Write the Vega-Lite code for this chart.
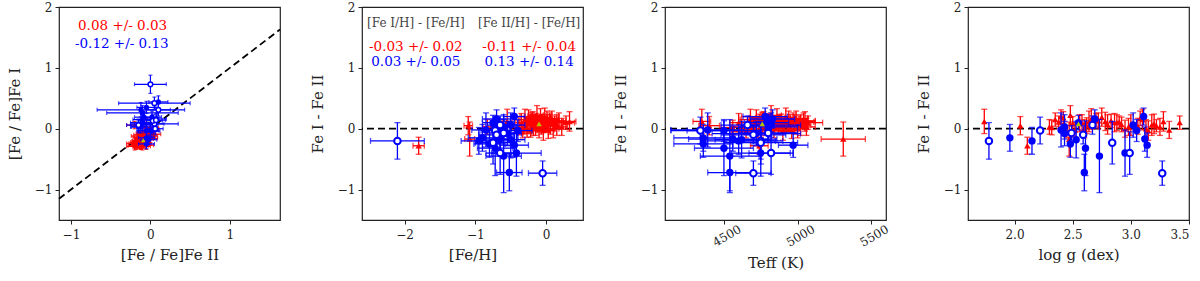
{
"$schema":"https://vega.github.io/schema/vega-lite/v6.json",
"autosize":{"type":"pad"},
"padding":{"left":6,"top":0,"right":0,"bottom":0},
"background":"white",
"spacing":82,
"bounds":"flush",
"datasets":{
"stars":[
{"g":"r","feh":-1.8,"fe":0.08,"teff":4740,"te":60,"logg":2.11,"d":-0.28,"de":0.14,"x1":-0.2,"x1e":0.1,"y1":0.06,"y1e":0.06},
{"g":"r","feh":-1.1,"fe":0.06,"teff":4400,"te":70,"logg":2.05,"d":0.05,"de":0.15,"x1":-0.15,"x1e":0.08,"y1":-0.2,"y1e":0.06},
{"g":"r","feh":-1.08,"fe":0.07,"teff":5310,"te":150,"logg":2.47,"d":-0.17,"de":0.28,"x1":-0.05,"x1e":0.1,"y1":0.1,"y1e":0.07},
{"g":"r","feh":-0.83,"fe":0.06,"teff":4620,"te":70,"logg":2.3,"d":0.03,"de":0.12,"x1":-0.12,"x1e":0.08,"y1":-0.15,"y1e":0.05},
{"g":"r","feh":-0.55,"fe":0.07,"teff":4350,"te":60,"logg":1.74,"d":0.12,"de":0.2,"x1":-0.1,"x1e":0.09,"y1":-0.22,"y1e":0.06},
{"g":"r","feh":-0.38,"fe":0.1,"teff":4560,"te":80,"logg":2.32,"d":0.02,"de":0.12,"x1":-0.22,"x1e":0.08,"y1":-0.24,"y1e":0.05},
{"g":"r","feh":-0.35,"fe":0.08,"teff":4600,"te":60,"logg":2.86,"d":0.10,"de":0.15,"x1":-0.18,"x1e":0.1,"y1":-0.28,"y1e":0.06},
{"g":"r","feh":-0.33,"fe":0.12,"teff":4650,"te":100,"logg":2.45,"d":-0.05,"de":0.1,"x1":-0.15,"x1e":0.06,"y1":-0.10,"y1e":0.04},
{"g":"r","feh":-0.30,"fe":0.09,"teff":4680,"te":70,"logg":3.10,"d":0.15,"de":0.17,"x1":-0.12,"x1e":0.09,"y1":-0.27,"y1e":0.07},
{"g":"r","feh":-0.28,"fe":0.1,"teff":4700,"te":80,"logg":2.62,"d":0.05,"de":0.13,"x1":-0.10,"x1e":0.08,"y1":-0.15,"y1e":0.05},
{"g":"r","feh":-0.27,"fe":0.08,"teff":4710,"te":60,"logg":2.95,"d":0.00,"de":0.14,"x1":-0.08,"x1e":0.1,"y1":-0.08,"y1e":0.06},
{"g":"r","feh":-0.25,"fe":0.12,"teff":4720,"te":100,"logg":2.40,"d":0.20,"de":0.11,"x1":-0.05,"x1e":0.06,"y1":-0.25,"y1e":0.04},
{"g":"r","feh":-0.23,"fe":0.09,"teff":4740,"te":70,"logg":3.20,"d":0.08,"de":0.16,"x1":-0.02,"x1e":0.09,"y1":-0.10,"y1e":0.07},
{"g":"r","feh":-0.22,"fe":0.1,"teff":4750,"te":80,"logg":2.52,"d":-0.02,"de":0.12,"x1":0.00,"x1e":0.08,"y1":0.02,"y1e":0.05},
{"g":"r","feh":-0.20,"fe":0.08,"teff":4760,"te":60,"logg":2.78,"d":0.12,"de":0.15,"x1":0.03,"x1e":0.1,"y1":-0.09,"y1e":0.06},
{"g":"r","feh":-0.19,"fe":0.12,"teff":4770,"te":100,"logg":2.42,"d":0.18,"de":0.1,"x1":-0.12,"x1e":0.06,"y1":-0.30,"y1e":0.04},
{"g":"r","feh":-0.18,"fe":0.09,"teff":4780,"te":70,"logg":3.00,"d":0.06,"de":0.17,"x1":-0.18,"x1e":0.09,"y1":-0.24,"y1e":0.07},
{"g":"r","feh":-0.16,"fe":0.1,"teff":4790,"te":80,"logg":2.58,"d":0.10,"de":0.13,"x1":-0.15,"x1e":0.08,"y1":-0.25,"y1e":0.05},
{"g":"r","feh":-0.15,"fe":0.08,"teff":4800,"te":60,"logg":3.25,"d":0.03,"de":0.14,"x1":-0.12,"x1e":0.1,"y1":-0.15,"y1e":0.06},
{"g":"r","feh":-0.14,"fe":0.12,"teff":4810,"te":100,"logg":2.70,"d":0.14,"de":0.11,"x1":-0.10,"x1e":0.06,"y1":-0.24,"y1e":0.04},
{"g":"r","feh":-0.13,"fe":0.09,"teff":4820,"te":70,"logg":2.48,"d":0.22,"de":0.16,"x1":-0.05,"x1e":0.09,"y1":-0.27,"y1e":0.07},
{"g":"r","feh":-0.12,"fe":0.1,"teff":4830,"te":80,"logg":2.92,"d":0.07,"de":0.12,"x1":-0.08,"x1e":0.08,"y1":-0.15,"y1e":0.05},
{"g":"r","feh":-0.10,"fe":0.08,"teff":4840,"te":60,"logg":3.13,"d":0.00,"de":0.15,"x1":-0.05,"x1e":0.1,"y1":-0.05,"y1e":0.06},
{"g":"r","feh":-0.09,"fe":0.12,"teff":4850,"te":100,"logg":2.38,"d":0.11,"de":0.1,"x1":-0.02,"x1e":0.06,"y1":-0.13,"y1e":0.04},
{"g":"r","feh":-0.08,"fe":0.09,"teff":4860,"te":70,"logg":2.66,"d":0.16,"de":0.17,"x1":0.00,"x1e":0.09,"y1":-0.16,"y1e":0.07},
{"g":"r","feh":-0.07,"fe":0.1,"teff":4870,"te":80,"logg":3.06,"d":0.04,"de":0.13,"x1":0.03,"x1e":0.08,"y1":-0.01,"y1e":0.05},
{"g":"r","feh":-0.06,"fe":0.08,"teff":4880,"te":60,"logg":2.56,"d":0.09,"de":0.14,"x1":-0.20,"x1e":0.1,"y1":-0.29,"y1e":0.06},
{"g":"r","feh":-0.05,"fe":0.12,"teff":4890,"te":100,"logg":2.83,"d":0.13,"de":0.11,"x1":-0.16,"x1e":0.06,"y1":-0.29,"y1e":0.04},
{"g":"r","feh":-0.04,"fe":0.09,"teff":4900,"te":70,"logg":3.15,"d":-0.03,"de":0.16,"x1":-0.15,"x1e":0.09,"y1":-0.12,"y1e":0.07},
{"g":"r","feh":-0.03,"fe":0.1,"teff":4910,"te":80,"logg":2.50,"d":0.08,"de":0.12,"x1":-0.12,"x1e":0.08,"y1":-0.20,"y1e":0.05},
{"g":"r","feh":-0.02,"fe":0.08,"teff":4920,"te":60,"logg":2.75,"d":0.19,"de":0.15,"x1":-0.10,"x1e":0.1,"y1":-0.29,"y1e":0.06},
{"g":"r","feh":0.00,"fe":0.12,"teff":4930,"te":100,"logg":3.22,"d":0.05,"de":0.1,"x1":-0.08,"x1e":0.06,"y1":-0.13,"y1e":0.04},
{"g":"r","feh":0.01,"fe":0.09,"teff":4940,"te":70,"logg":2.64,"d":0.12,"de":0.17,"x1":-0.05,"x1e":0.09,"y1":-0.17,"y1e":0.07},
{"g":"r","feh":0.02,"fe":0.1,"teff":4950,"te":80,"logg":2.88,"d":0.10,"de":0.13,"x1":-0.02,"x1e":0.08,"y1":-0.12,"y1e":0.05},
{"g":"r","feh":0.03,"fe":0.08,"teff":4960,"te":60,"logg":3.33,"d":-0.02,"de":0.14,"x1":0.00,"x1e":0.1,"y1":0.02,"y1e":0.06},
{"g":"r","feh":0.05,"fe":0.12,"teff":4970,"te":100,"logg":2.35,"d":0.15,"de":0.11,"x1":0.03,"x1e":0.06,"y1":-0.12,"y1e":0.04},
{"g":"r","feh":0.06,"fe":0.09,"teff":4980,"te":70,"logg":2.80,"d":0.07,"de":0.16,"x1":-0.10,"x1e":0.09,"y1":-0.17,"y1e":0.07},
{"g":"r","feh":0.08,"fe":0.1,"teff":4990,"te":80,"logg":3.08,"d":0.17,"de":0.12,"x1":-0.10,"x1e":0.08,"y1":-0.27,"y1e":0.05},
{"g":"r","feh":0.10,"fe":0.08,"teff":5000,"te":60,"logg":2.60,"d":0.00,"de":0.15,"x1":-0.06,"x1e":0.1,"y1":-0.06,"y1e":0.06},
{"g":"r","feh":0.12,"fe":0.12,"teff":5010,"te":100,"logg":2.90,"d":0.11,"de":0.1,"x1":-0.12,"x1e":0.06,"y1":-0.23,"y1e":0.04},
{"g":"r","feh":0.15,"fe":0.09,"teff":5020,"te":70,"logg":3.18,"d":0.06,"de":0.17,"x1":-0.16,"x1e":0.09,"y1":-0.22,"y1e":0.07},
{"g":"r","feh":0.18,"fe":0.1,"teff":5040,"te":80,"logg":2.72,"d":0.13,"de":0.13,"x1":-0.08,"x1e":0.08,"y1":-0.21,"y1e":0.05},
{"g":"r","feh":0.22,"fe":0.08,"teff":5060,"te":60,"logg":2.98,"d":0.03,"de":0.14,"x1":-0.04,"x1e":0.1,"y1":-0.07,"y1e":0.06},
{"g":"r","feh":0.28,"fe":0.12,"teff":5070,"te":100,"logg":3.42,"d":0.10,"de":0.11,"x1":-0.13,"x1e":0.06,"y1":-0.23,"y1e":0.04},
{"g":"r","feh":0.33,"fe":0.09,"teff":5050,"te":70,"logg":3.28,"d":0.12,"de":0.16,"x1":-0.10,"x1e":0.09,"y1":-0.22,"y1e":0.07},
{"g":"bo","feh":-2.1,"fe":0.38,"teff":4750,"te":150,"logg":1.78,"d":-0.2,"de":0.3,"x1":-0.15,"x1e":0.15,"y1":0.06,"y1e":0.1},
{"g":"bo","feh":-0.05,"fe":0.2,"teff":4700,"te":120,"logg":3.27,"d":-0.73,"de":0.2,"x1":0.0,"x1e":0.2,"y1":0.73,"y1e":0.15},
{"g":"bo","feh":-0.72,"fe":0.2,"teff":4340,"te":200,"logg":2.22,"d":-0.03,"de":0.22,"x1":0.05,"x1e":0.12,"y1":0.08,"y1e":0.1},
{"g":"bo","feh":-0.65,"fe":0.18,"teff":4660,"te":180,"logg":2.67,"d":0.06,"de":0.15,"x1":0.06,"x1e":0.1,"y1":0.0,"y1e":0.1},
{"g":"bo","feh":-0.7,"fe":0.25,"teff":4700,"te":220,"logg":2.59,"d":-0.1,"de":0.15,"x1":0.03,"x1e":0.12,"y1":0.13,"y1e":0.1},
{"g":"bo","feh":-0.6,"fe":0.2,"teff":4800,"te":200,"logg":2.49,"d":-0.07,"de":0.12,"x1":0.07,"x1e":0.12,"y1":0.14,"y1e":0.1},
{"g":"bo","feh":-0.65,"fe":0.2,"teff":4820,"te":150,"logg":2.99,"d":-0.4,"de":0.35,"x1":0.05,"x1e":0.45,"y1":0.42,"y1e":0.1},
{"g":"bo","feh":-0.75,"fe":0.25,"teff":4750,"te":250,"logg":2.84,"d":-0.23,"de":0.35,"x1":0.1,"x1e":0.15,"y1":0.31,"y1e":0.1},
{"g":"bf","feh":-0.9,"fe":0.2,"teff":4360,"te":200,"logg":1.96,"d":-0.15,"de":0.22,"x1":-0.12,"x1e":0.12,"y1":0.03,"y1e":0.1},
{"g":"bf","feh":-0.95,"fe":0.25,"teff":4600,"te":250,"logg":2.15,"d":-0.2,"de":0.22,"x1":-0.1,"x1e":0.15,"y1":0.1,"y1e":0.1},
{"g":"bf","feh":-0.85,"fe":0.2,"teff":4390,"te":250,"logg":2.40,"d":-0.02,"de":0.28,"x1":-0.05,"x1e":0.12,"y1":-0.03,"y1e":0.1},
{"g":"bf","feh":-0.6,"fe":0.18,"teff":4800,"te":200,"logg":2.43,"d":0.03,"de":0.2,"x1":0.0,"x1e":0.1,"y1":-0.03,"y1e":0.1},
{"g":"bf","feh":-0.8,"fe":0.22,"teff":4360,"te":200,"logg":2.48,"d":-0.25,"de":0.22,"x1":-0.1,"x1e":0.12,"y1":0.15,"y1e":0.1},
{"g":"bf","feh":-0.5,"fe":0.2,"teff":4620,"te":180,"logg":2.53,"d":-0.18,"de":0.3,"x1":-0.15,"x1e":0.1,"y1":0.03,"y1e":0.1},
{"g":"bf","feh":-0.75,"fe":0.15,"teff":4790,"te":150,"logg":2.55,"d":0.1,"de":0.12,"x1":-0.05,"x1e":0.1,"y1":-0.15,"y1e":0.08},
{"g":"bf","feh":-0.52,"fe":0.18,"teff":4540,"te":150,"logg":2.60,"d":-0.72,"de":0.3,"x1":0.1,"x1e":0.12,"y1":0.44,"y1e":0.1},
{"g":"bf","feh":-0.72,"fe":0.25,"teff":4500,"te":200,"logg":2.61,"d":-0.32,"de":0.45,"x1":-0.12,"x1e":0.55,"y1":0.31,"y1e":0.12},
{"g":"bf","feh":-0.7,"fe":0.2,"teff":4830,"te":150,"logg":2.69,"d":0.16,"de":0.15,"x1":-0.02,"x1e":0.1,"y1":-0.18,"y1e":0.08},
{"g":"bf","feh":-0.6,"fe":0.25,"teff":4540,"te":200,"logg":2.73,"d":-0.45,"de":0.6,"x1":-0.1,"x1e":0.45,"y1":0.26,"y1e":0.12},
{"g":"bf","feh":-0.42,"fe":0.35,"teff":4750,"te":200,"logg":2.95,"d":-0.4,"de":0.38,"x1":-0.05,"x1e":0.12,"y1":0.35,"y1e":0.1},
{"g":"bf","feh":-0.5,"fe":0.2,"teff":4820,"te":200,"logg":3.02,"d":0.06,"de":0.2,"x1":0.02,"x1e":0.1,"y1":-0.04,"y1e":0.1},
{"g":"bf","feh":-0.4,"fe":0.2,"teff":4500,"te":250,"logg":3.05,"d":-0.03,"de":0.18,"x1":0.05,"x1e":0.3,"y1":0.08,"y1e":0.1},
{"g":"bf","feh":-0.45,"fe":0.15,"teff":4780,"te":150,"logg":3.11,"d":0.2,"de":0.14,"x1":-0.05,"x1e":0.1,"y1":-0.25,"y1e":0.08},
{"g":"bf","feh":-0.65,"fe":0.2,"teff":4560,"te":300,"logg":3.12,"d":-0.17,"de":0.2,"x1":0.02,"x1e":0.12,"y1":0.19,"y1e":0.1},
{"g":"bf","feh":-0.45,"fe":0.2,"teff":4970,"te":100,"logg":3.14,"d":-0.27,"de":0.2,"x1":-0.08,"x1e":0.12,"y1":0.19,"y1e":0.1},
{"g":"bf","feh":-0.55,"fe":0.2,"teff":4720,"te":300,"logg":2.43,"d":-0.08,"de":0.2,"x1":0.08,"x1e":0.12,"y1":0.16,"y1e":0.1},
{"g":"s","feh":-0.1,"fe":0,"teff":4760,"te":0,"logg":2.55,"d":0.08,"de":0,"x1":-0.09,"x1e":0,"y1":-0.19,"y1e":0}
],
"notes":[
{"p":1,"tx":-0.35,"ty":1.69,"label":"0.08 +/- 0.03","c":"r"},
{"p":1,"tx":-0.36,"ty":1.40,"label":"-0.12 +/- 0.13","c":"b"},
{"p":2,"tx":-1.84,"ty":1.74,"label":"[Fe I/H] - [Fe/H]","c":"k"},
{"p":2,"tx":-0.24,"ty":1.74,"label":"[Fe II/H] - [Fe/H]","c":"k"},
{"p":2,"tx":-1.84,"ty":1.35,"label":"-0.03 +/- 0.02","c":"r"},
{"p":2,"tx":-0.24,"ty":1.35,"label":"-0.11 +/- 0.04","c":"r"},
{"p":2,"tx":-1.84,"ty":1.10,"label":"0.03 +/- 0.05","c":"b"},
{"p":2,"tx":-0.24,"ty":1.10,"label":"0.13 +/- 0.14","c":"b"}
]
},
"hconcat":[
{"width":221,"height":213,
"layer":[
{"data":{"values":[{}]},"mark":{"type":"rule","strokeDash":[7,4],"strokeWidth":1.8,"color":"black"},"encoding":{"x":{"datum":-1.15,"type":"quantitative","title":"[Fe / Fe]Fe II"},"y":{"datum":-1.15,"type":"quantitative","title":"[Fe / Fe]Fe I"},"x2":{"datum":1.63},"y2":{"datum":1.63}}},
{"data":{"name":"stars"},"transform":[{"filter":"datum.g == 'r'"}],"mark":{"type":"errorbar","ticks":true,"size":4,"thickness":1.2,"color":"#ff0000"},"encoding":{"x":{"field":"x1","type":"quantitative","title":"[Fe / Fe]Fe II"},"xError":{"field":"x1e"},"y":{"field":"y1","type":"quantitative","title":"[Fe / Fe]Fe I"}}},
{"data":{"name":"stars"},"transform":[{"filter":"datum.g == 'r'"}],"mark":{"type":"errorbar","ticks":true,"size":4,"thickness":1.2,"color":"#ff0000"},"encoding":{"y":{"field":"y1","type":"quantitative","title":"[Fe / Fe]Fe I"},"yError":{"field":"y1e"},"x":{"field":"x1","type":"quantitative","title":"[Fe / Fe]Fe II"}}},
{"data":{"name":"stars"},"transform":[{"filter":"datum.g == 'r'"}],"mark":{"type":"point","shape":"triangle-up","filled":true,"size":22,"color":"#ff0000","opacity":1},
 "encoding":{"x":{"field":"x1","type":"quantitative","title":"[Fe / Fe]Fe II","scale":{"domain":[-1.15,1.63],"nice":false,"zero":false},"axis":{"values":[-1,0,1],"format":"d"}},
 "y":{"field":"y1","type":"quantitative","title":"[Fe / Fe]Fe I","scale":{"domain":[-1.5,2],"nice":false,"zero":false},"axis":{"values":[-1,0,1,2],"format":"d"}}}},
{"data":{"name":"stars"},"transform":[{"filter":{"field":"g","oneOf":["bf","bo"]}}],"mark":{"type":"errorbar","ticks":true,"size":4,"thickness":1.2,"color":"#0000ff"},"encoding":{"x":{"field":"x1","type":"quantitative","title":"[Fe / Fe]Fe II"},"xError":{"field":"x1e"},"y":{"field":"y1","type":"quantitative","title":"[Fe / Fe]Fe I"}}},
{"data":{"name":"stars"},"transform":[{"filter":{"field":"g","oneOf":["bf","bo"]}}],"mark":{"type":"errorbar","ticks":true,"size":4,"thickness":1.2,"color":"#0000ff"},"encoding":{"y":{"field":"y1","type":"quantitative","title":"[Fe / Fe]Fe I"},"yError":{"field":"y1e"},"x":{"field":"x1","type":"quantitative","title":"[Fe / Fe]Fe II"}}},
{"data":{"name":"stars"},"transform":[{"filter":"datum.g == 'bf'"}],"mark":{"type":"point","shape":"circle","filled":true,"size":28,"color":"#0000ff","opacity":1},"encoding":{"x":{"field":"x1","type":"quantitative","title":"[Fe / Fe]Fe II"},"y":{"field":"y1","type":"quantitative","title":"[Fe / Fe]Fe I"}}},
{"data":{"name":"stars"},"transform":[{"filter":"datum.g == 'bo'"}],"mark":{"type":"point","shape":"circle","filled":false,"fill":"white","fillOpacity":1,"size":22,"strokeWidth":1.5,"color":"#0000ff","opacity":1},"encoding":{"x":{"field":"x1","type":"quantitative","title":"[Fe / Fe]Fe II"},"y":{"field":"y1","type":"quantitative","title":"[Fe / Fe]Fe I"}}},
{"data":{"name":"stars"},"transform":[{"filter":"datum.g == 's'"}],"mark":{"type":"point","shape":"triangle-up","filled":true,"size":22,"color":"#b8c400","opacity":1},"encoding":{"x":{"field":"x1","type":"quantitative","title":"[Fe / Fe]Fe II"},"y":{"field":"y1","type":"quantitative","title":"[Fe / Fe]Fe I"}}},
{"data":{"name":"notes"},"transform":[{"filter":"datum.p == 1"}],"mark":{"type":"text","fontSize":13.5},"encoding":{"x":{"field":"tx","type":"quantitative","title":"[Fe / Fe]Fe II"},"y":{"field":"ty","type":"quantitative","title":"[Fe / Fe]Fe I"},"text":{"field":"label"},"color":{"field":"c","type":"nominal","scale":{"domain":["r","b","k"],"range":["#ff0000","#0000ff","#444444"]},"legend":null}}}
]},
{"width":221,"height":213,
"layer":[
{"data":{"values":[{}]},"mark":{"type":"rule","strokeDash":[7,4],"strokeWidth":1.8,"color":"black"},"encoding":{"y":{"datum":0,"type":"quantitative","title":"Fe I - Fe II"}}},
{"data":{"name":"stars"},"transform":[{"filter":"datum.g == 'r'"}],"mark":{"type":"errorbar","ticks":true,"size":6,"thickness":1.3,"color":"#ff0000"},"encoding":{"x":{"field":"feh","type":"quantitative","title":"[Fe/H]"},"xError":{"field":"fe"},"y":{"field":"d","type":"quantitative","title":"Fe I - Fe II"}}},
{"data":{"name":"stars"},"transform":[{"filter":"datum.g == 'r'"}],"mark":{"type":"errorbar","ticks":true,"size":6,"thickness":1.3,"color":"#ff0000"},"encoding":{"y":{"field":"d","type":"quantitative","title":"Fe I - Fe II"},"yError":{"field":"de"},"x":{"field":"feh","type":"quantitative","title":"[Fe/H]"}}},
{"data":{"name":"stars"},"transform":[{"filter":"datum.g == 'r'"}],"mark":{"type":"point","shape":"triangle-up","filled":true,"size":40,"color":"#ff0000","opacity":1},
 "encoding":{"x":{"field":"feh","type":"quantitative","title":"[Fe/H]","scale":{"domain":[-2.6,0.52],"nice":false,"zero":false},"axis":{"values":[-2,-1,0],"format":"d"}},
 "y":{"field":"d","type":"quantitative","title":"Fe I - Fe II","scale":{"domain":[-1.5,2],"nice":false,"zero":false},"axis":{"values":[-1,0,1,2],"format":"d"}}}},
{"data":{"name":"stars"},"transform":[{"filter":{"field":"g","oneOf":["bf","bo"]}}],"mark":{"type":"errorbar","ticks":true,"size":6,"thickness":1.3,"color":"#0000ff"},"encoding":{"x":{"field":"feh","type":"quantitative","title":"[Fe/H]"},"xError":{"field":"fe"},"y":{"field":"d","type":"quantitative","title":"Fe I - Fe II"}}},
{"data":{"name":"stars"},"transform":[{"filter":{"field":"g","oneOf":["bf","bo"]}}],"mark":{"type":"errorbar","ticks":true,"size":6,"thickness":1.3,"color":"#0000ff"},"encoding":{"y":{"field":"d","type":"quantitative","title":"Fe I - Fe II"},"yError":{"field":"de"},"x":{"field":"feh","type":"quantitative","title":"[Fe/H]"}}},
{"data":{"name":"stars"},"transform":[{"filter":"datum.g == 'bf'"}],"mark":{"type":"point","shape":"circle","filled":true,"size":55,"color":"#0000ff","opacity":1},"encoding":{"x":{"field":"feh","type":"quantitative","title":"[Fe/H]"},"y":{"field":"d","type":"quantitative","title":"Fe I - Fe II"}}},
{"data":{"name":"stars"},"transform":[{"filter":"datum.g == 'bo'"}],"mark":{"type":"point","shape":"circle","filled":false,"fill":"white","fillOpacity":1,"size":42,"strokeWidth":2,"color":"#0000ff","opacity":1},"encoding":{"x":{"field":"feh","type":"quantitative","title":"[Fe/H]"},"y":{"field":"d","type":"quantitative","title":"Fe I - Fe II"}}},
{"data":{"name":"stars"},"transform":[{"filter":"datum.g == 's'"}],"mark":{"type":"point","shape":"triangle-up","filled":true,"size":30,"color":"#b8c400","opacity":1},"encoding":{"x":{"field":"feh","type":"quantitative","title":"[Fe/H]"},"y":{"field":"d","type":"quantitative","title":"Fe I - Fe II"}}},
{"data":{"name":"notes"},"transform":[{"filter":"datum.p == 2 && datum.c != 'k'"}],"mark":{"type":"text","fontSize":13.5},"encoding":{"x":{"field":"tx","type":"quantitative","title":"[Fe/H]"},"y":{"field":"ty","type":"quantitative","title":"Fe I - Fe II"},"text":{"field":"label"},"color":{"field":"c","type":"nominal","scale":{"domain":["r","b","k"],"range":["#ff0000","#0000ff","#444444"]},"legend":null}}},
{"data":{"name":"notes"},"transform":[{"filter":"datum.p == 2 && datum.c == 'k'"}],"mark":{"type":"text","fontSize":12},"encoding":{"x":{"field":"tx","type":"quantitative","title":"[Fe/H]"},"y":{"field":"ty","type":"quantitative","title":"Fe I - Fe II"},"text":{"field":"label"},"color":{"field":"c","type":"nominal","scale":{"domain":["r","b","k"],"range":["#ff0000","#0000ff","#444444"]},"legend":null}}}
]},
{"width":221,"height":213,
"layer":[
{"data":{"values":[{}]},"mark":{"type":"rule","strokeDash":[7,4],"strokeWidth":1.8,"color":"black"},"encoding":{"y":{"datum":0,"type":"quantitative","title":"Fe I - Fe II"}}},
{"data":{"name":"stars"},"transform":[{"filter":"datum.g == 'r'"}],"mark":{"type":"errorbar","ticks":true,"size":6,"thickness":1.3,"color":"#ff0000"},"encoding":{"x":{"field":"teff","type":"quantitative","title":"Teff (K)"},"xError":{"field":"te"},"y":{"field":"d","type":"quantitative","title":"Fe I - Fe II"}}},
{"data":{"name":"stars"},"transform":[{"filter":"datum.g == 'r'"}],"mark":{"type":"errorbar","ticks":true,"size":6,"thickness":1.3,"color":"#ff0000"},"encoding":{"y":{"field":"d","type":"quantitative","title":"Fe I - Fe II"},"yError":{"field":"de"},"x":{"field":"teff","type":"quantitative","title":"Teff (K)"}}},
{"data":{"name":"stars"},"transform":[{"filter":"datum.g == 'r'"}],"mark":{"type":"point","shape":"triangle-up","filled":true,"size":40,"color":"#ff0000","opacity":1},
 "encoding":{"x":{"field":"teff","type":"quantitative","title":"Teff (K)","scale":{"domain":[4100,5600],"nice":false,"zero":false},"axis":{"values":[4500,5000,5500],"format":"d","labelAngle":-30,"labelAlign":"center","labelBaseline":"top","labelPadding":7}},
 "y":{"field":"d","type":"quantitative","title":"Fe I - Fe II","scale":{"domain":[-1.5,2],"nice":false,"zero":false},"axis":{"values":[-1,0,1,2],"format":"d"}}}},
{"data":{"name":"stars"},"transform":[{"filter":{"field":"g","oneOf":["bf","bo"]}}],"mark":{"type":"errorbar","ticks":true,"size":6,"thickness":1.3,"color":"#0000ff"},"encoding":{"x":{"field":"teff","type":"quantitative","title":"Teff (K)"},"xError":{"field":"te"},"y":{"field":"d","type":"quantitative","title":"Fe I - Fe II"}}},
{"data":{"name":"stars"},"transform":[{"filter":{"field":"g","oneOf":["bf","bo"]}}],"mark":{"type":"errorbar","ticks":true,"size":6,"thickness":1.3,"color":"#0000ff"},"encoding":{"y":{"field":"d","type":"quantitative","title":"Fe I - Fe II"},"yError":{"field":"de"},"x":{"field":"teff","type":"quantitative","title":"Teff (K)"}}},
{"data":{"name":"stars"},"transform":[{"filter":"datum.g == 'bf'"}],"mark":{"type":"point","shape":"circle","filled":true,"size":55,"color":"#0000ff","opacity":1},"encoding":{"x":{"field":"teff","type":"quantitative","title":"Teff (K)"},"y":{"field":"d","type":"quantitative","title":"Fe I - Fe II"}}},
{"data":{"name":"stars"},"transform":[{"filter":"datum.g == 'bo'"}],"mark":{"type":"point","shape":"circle","filled":false,"fill":"white","fillOpacity":1,"size":42,"strokeWidth":2,"color":"#0000ff","opacity":1},"encoding":{"x":{"field":"teff","type":"quantitative","title":"Teff (K)"},"y":{"field":"d","type":"quantitative","title":"Fe I - Fe II"}}},
{"data":{"name":"stars"},"transform":[{"filter":"datum.g == 's'"}],"mark":{"type":"point","shape":"triangle-up","filled":true,"size":30,"color":"#b8c400","opacity":1},"encoding":{"x":{"field":"teff","type":"quantitative","title":"Teff (K)"},"y":{"field":"d","type":"quantitative","title":"Fe I - Fe II"}}}
]},
{"width":221,"height":213,
"layer":[
{"data":{"values":[{}]},"mark":{"type":"rule","strokeDash":[7,4],"strokeWidth":1.8,"color":"black"},"encoding":{"y":{"datum":0,"type":"quantitative","title":"Fe I - Fe II"}}},
{"data":{"name":"stars"},"transform":[{"filter":"datum.g == 'r'"}],"mark":{"type":"errorbar","ticks":true,"size":6,"thickness":1.3,"color":"#ff0000"},"encoding":{"y":{"field":"d","type":"quantitative","title":"Fe I - Fe II"},"yError":{"field":"de"},"x":{"field":"logg","type":"quantitative","title":"log g (dex)"}}},
{"data":{"name":"stars"},"transform":[{"filter":"datum.g == 'r'"}],"mark":{"type":"point","shape":"triangle-up","filled":true,"size":40,"color":"#ff0000","opacity":1},
 "encoding":{"x":{"field":"logg","type":"quantitative","title":"log g (dex)","scale":{"domain":[1.6,3.5],"nice":false,"zero":false},"axis":{"values":[2,2.5,3,3.5],"format":".1f"}},
 "y":{"field":"d","type":"quantitative","title":"Fe I - Fe II","scale":{"domain":[-1.5,2],"nice":false,"zero":false},"axis":{"values":[-1,0,1,2],"format":"d"}}}},
{"data":{"name":"stars"},"transform":[{"filter":{"field":"g","oneOf":["bf","bo"]}}],"mark":{"type":"errorbar","ticks":true,"size":6,"thickness":1.3,"color":"#0000ff"},"encoding":{"y":{"field":"d","type":"quantitative","title":"Fe I - Fe II"},"yError":{"field":"de"},"x":{"field":"logg","type":"quantitative","title":"log g (dex)"}}},
{"data":{"name":"stars"},"transform":[{"filter":"datum.g == 'bf'"}],"mark":{"type":"point","shape":"circle","filled":true,"size":55,"color":"#0000ff","opacity":1},"encoding":{"x":{"field":"logg","type":"quantitative","title":"log g (dex)"},"y":{"field":"d","type":"quantitative","title":"Fe I - Fe II"}}},
{"data":{"name":"stars"},"transform":[{"filter":"datum.g == 'bo'"}],"mark":{"type":"point","shape":"circle","filled":false,"fill":"white","fillOpacity":1,"size":42,"strokeWidth":2,"color":"#0000ff","opacity":1},"encoding":{"x":{"field":"logg","type":"quantitative","title":"log g (dex)"},"y":{"field":"d","type":"quantitative","title":"Fe I - Fe II"}}},
{"data":{"name":"stars"},"transform":[{"filter":"datum.g == 's'"}],"mark":{"type":"point","shape":"triangle-up","filled":true,"size":30,"color":"#b8c400","opacity":1},"encoding":{"x":{"field":"logg","type":"quantitative","title":"log g (dex)"},"y":{"field":"d","type":"quantitative","title":"Fe I - Fe II"}}}
]}
],
"config":{
"font":"DejaVu Serif",
"view":{"stroke":"#222222","strokeWidth":1.2},
"axis":{"grid":false,"domain":false,"tickColor":"#222222","tickSize":4,"labelFontSize":12,"labelColor":"#222222","titleFontSize":15,"titleFontWeight":"normal","titleColor":"#222222","labelPadding":3,"titlePadding":5},
"axisX":{"labelPadding":5,"titlePadding":7},
"axisY":{"titlePadding":12}
}
}
